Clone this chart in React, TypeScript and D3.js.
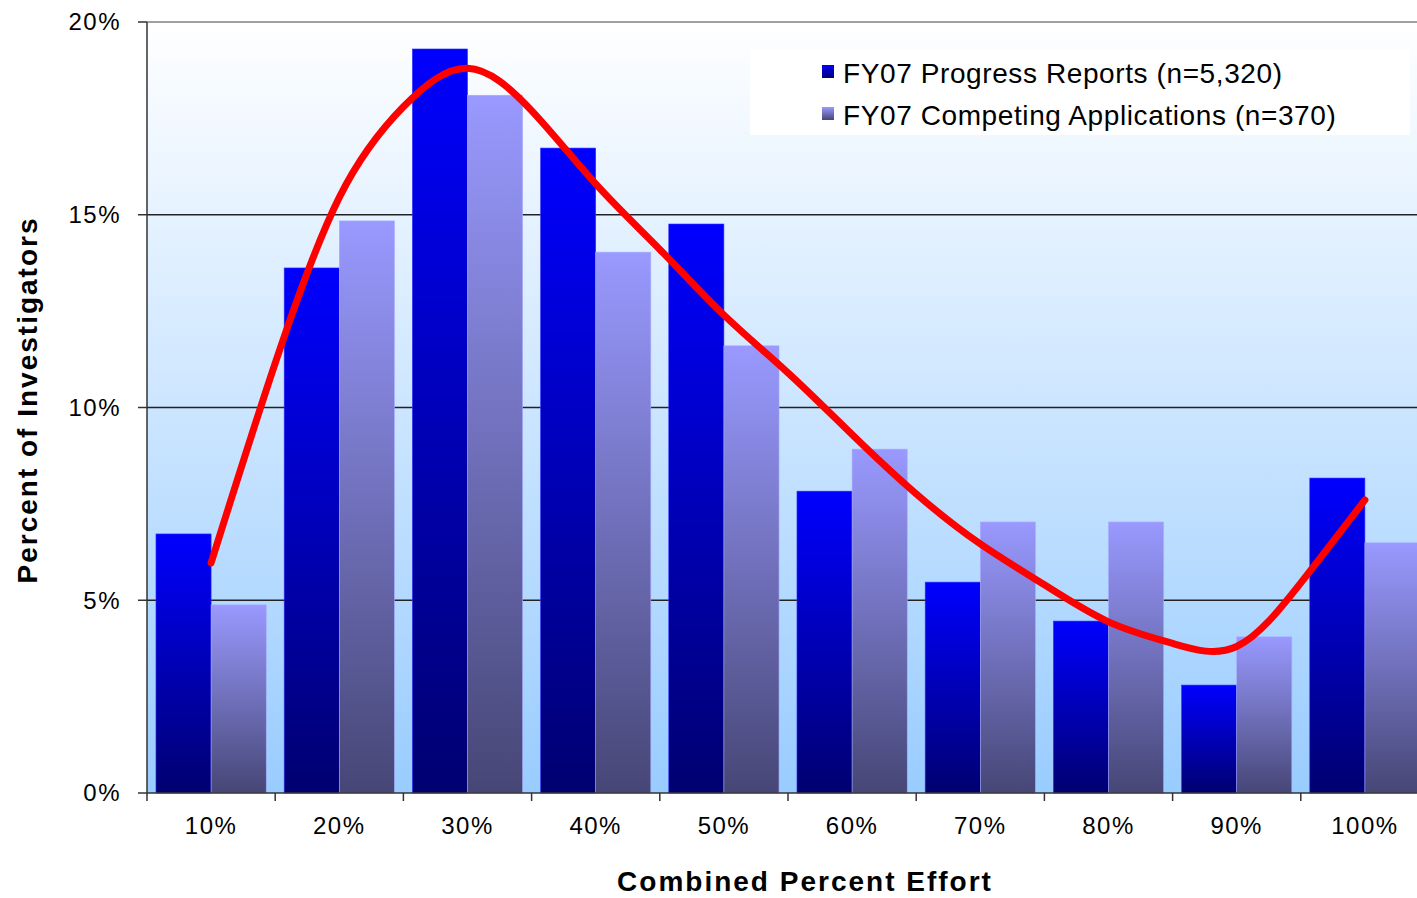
import * as d3 from 'd3'

const categories = ['10%', '20%', '30%', '40%', '50%', '60%', '70%', '80%', '90%', '100%']
const progressReports = [6.72, 13.62, 19.3, 16.73, 14.76, 7.83, 5.47, 4.46, 2.8, 8.17]
const competingApps = [4.88, 14.84, 18.1, 14.03, 11.6, 8.92, 7.03, 7.03, 4.05, 6.49]
// trend line, every half category (0 = 10%, 9 = 100%)
const trendPos = [0, 0.5, 1, 1.5, 2, 2.5, 3, 3.5, 4, 4.5, 5, 5.5, 6, 6.5, 7, 7.5, 8, 8.5, 9]
const trendVals = [5.97, 11.15, 15.45, 17.8, 18.8, 17.7, 15.8, 14.1, 12.4, 10.9, 9.3, 7.76, 6.46, 5.4, 4.44, 3.88, 3.8, 5.45, 7.6]
const yTicks = [0, 5, 10, 15, 20]
const seriesNames = ['FY07 Progress Reports (n=5,320)', 'FY07 Competing Applications (n=370)']

export default function App() {
  const width = 1417
  const height = 898
  const left = 147
  const right = 1429
  const top = 22
  const bottom = 793

  const x = d3.scaleBand().domain(categories).range([left, right]).paddingInner(0.14).paddingOuter(0.07)
  const y = d3.scaleLinear().domain([0, 20]).range([bottom, top])
  const step = x.step()
  const bw = x.bandwidth() / 2
  const center0 = (x(categories[0]) as number) + x.bandwidth() / 2
  const xt = d3.scaleLinear().domain([0, 9]).range([center0, center0 + 9 * step])

  const line = d3.line<number>()
    .x((_, i) => xt(trendPos[i]))
    .y(d => y(d))
    .curve(d3.curveNatural)

  const font = 'Liberation Sans, Arial, sans-serif'

  return (
    <svg width={width} height={height} style={{ position: 'absolute', left: 0, top: 0 }} fontFamily={font}>
      <defs>
        <linearGradient id="bg" x1="0" y1="0" x2="0" y2="1">
          <stop offset="0" stopColor="#ffffff" />
          <stop offset="1" stopColor="#99ccff" />
        </linearGradient>
        <linearGradient id="blueBar" x1="0" y1="0" x2="0" y2="1">
          <stop offset="0" stopColor="#0000ff" />
          <stop offset="1" stopColor="#000070" />
        </linearGradient>
        <linearGradient id="lightBar" x1="0" y1="0" x2="0" y2="1">
          <stop offset="0" stopColor="#9999ff" />
          <stop offset="1" stopColor="#464676" />
        </linearGradient>
      </defs>
      <rect x={0} y={0} width={width} height={height} fill="#ffffff" />
      <rect x={left} y={top} width={right - left} height={bottom - top} fill="url(#bg)" />

      {yTicks.filter(t => t > 0).map(t => (
        <line key={t} x1={left} x2={right} y1={y(t)} y2={y(t)} stroke={t === 20 ? '#808080' : '#222'} strokeWidth={1.5} />
      ))}

      {/* legend box */}
      <rect x={750} y={50} width={660} height={85} fill="#ffffff" />

      {categories.map((c, i) => (
        <g key={c}>
          <rect x={x(c)} y={y(progressReports[i])} width={bw} height={bottom - y(progressReports[i])}
            fill="url(#blueBar)" stroke="#3333ff" strokeWidth={0.6} />
          <rect x={(x(c) as number) + bw} y={y(competingApps[i])} width={bw} height={bottom - y(competingApps[i])}
            fill="url(#lightBar)" stroke="#aaaaff" strokeWidth={0.6} />
        </g>
      ))}

      <path d={line(trendVals) ?? ''} fill="none" stroke="#ff0000" strokeWidth={7} strokeLinecap="round" />

      {/* axes */}
      <line x1={left} x2={left} y1={top} y2={bottom} stroke="#333" strokeWidth={1.5} />
      <line x1={left} x2={right} y1={bottom} y2={bottom} stroke="#333" strokeWidth={1.5} />
      {yTicks.map(t => (
        <g key={t}>
          <line x1={left - 9} x2={left} y1={y(t)} y2={y(t)} stroke="#333" strokeWidth={1.5} />
          <text x={121} y={y(t)} dy="0.35em" textAnchor="end" fontSize={24} letterSpacing={1.5} fill="#000">{t}%</text>
        </g>
      ))}
      {categories.map((c, i) => (
        <g key={c}>
          <line x1={left + i * step} x2={left + i * step} y1={bottom} y2={bottom + 8} stroke="#333" strokeWidth={1.5} />
          <text x={(x(c) as number) + x.bandwidth() / 2} y={834} textAnchor="middle" fontSize={24} letterSpacing={1.5} fill="#000">{c}</text>
        </g>
      ))}

      <text transform="translate(37,400) rotate(-90)" textAnchor="middle" fontSize={28} letterSpacing={2} fontWeight="bold" fill="#000">Percent of Investigators</text>
      <text x={805} y={891} textAnchor="middle" fontSize={28} letterSpacing={2} fontWeight="bold" fill="#000">Combined Percent Effort</text>

      {/* legend */}
      {seriesNames.map((s, i) => (
        <g key={s}>
          <rect x={822} y={65 + i * 42} width={12} height={13} fill={i === 0 ? 'url(#blueBar)' : 'url(#lightBar)'} />
          <text x={843} y={83 + i * 42} fontSize={28} letterSpacing={0.6} fill="#000">{s}</text>
        </g>
      ))}
    </svg>
  )
}
